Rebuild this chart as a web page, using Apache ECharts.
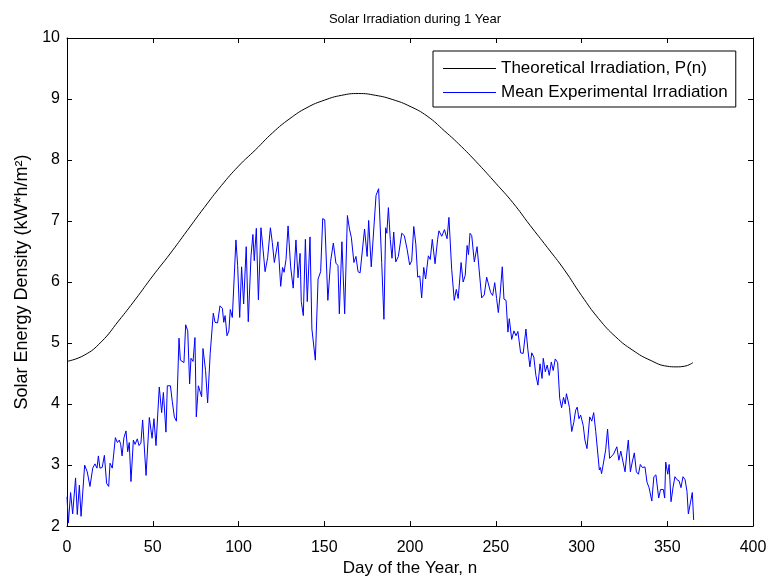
<!DOCTYPE html>
<html>
<head>
<meta charset="utf-8">
<script src="https://cdn.jsdelivr.net/npm/echarts@6/dist/echarts.min.js"></script>
<style>
  html, body { margin: 0; padding: 0; background: #fff; }
  #chart { width: 770px; height: 582px; }
</style>
</head>
<body>
<div id="chart"></div>
<script>
// theoretical curve
var theoryDays = [0, 10, 20, 30, 40, 50, 60, 70, 80, 90, 100, 110, 120, 130, 140, 150, 160, 170, 180,
  190, 200, 210, 220, 230, 240, 250, 260, 270, 280, 290, 300, 310, 320, 330, 340, 350, 355, 360, 365];
var theoryValues = [4.70, 4.80, 5.02, 5.36, 5.72, 6.10, 6.46, 6.84, 7.22, 7.58, 7.90, 8.17, 8.45, 8.68, 8.86, 8.98, 9.06, 9.09, 9.06,
  8.99, 8.88, 8.72, 8.48, 8.22, 7.93, 7.62, 7.30, 6.93, 6.57, 6.20, 5.78, 5.40, 5.10, 4.88, 4.72, 4.62, 4.61, 4.62, 4.68];

var expDays = [0, 0.8, 2.1, 3.3, 5.0, 6.0, 7.2, 8.2, 10.3, 11.8, 13.4, 15.0, 16.3, 17.5, 18.3, 19.2, 20.5, 21.8, 23.1, 24.3,
  25.1, 26.4, 28.2, 29.4, 30.5, 31.3, 32.1, 33.2, 34.4, 35.4, 36.3, 37.3, 38.7, 39.7, 41.0, 42.0, 43.1, 44.1, 46.1, 48.0,
  49.6, 50.7, 51.9, 53.8, 55.2, 56.2, 57.7,
  58.5, 60.3, 61.4, 62.6, 63.8, 65.3, 66.1, 67.2, 68.2, 69.2, 70.4, 71.5, 72.3, 73.5, 74.6, 75.4, 76.6, 77.7, 78.5, 79.3,
  80.8, 82.0, 83.5, 85.3, 86.3, 87.8, 89.2, 90.6, 91.4, 92.2, 93.3, 94.4, 95.2, 96.4, 97.5, 98.5, 99.5, 100.7, 101.8, 103.0,
  104.5, 105.7, 107.3, 108.4, 109.2, 110.4, 111.6, 113.1, 114.3, 115.5, 117.0, 118.6, 119.7,
  120.9, 122.0, 123.0, 124.6, 125.7, 126.6, 127.7, 128.9, 130.4, 131.9, 132.7, 133.5, 134.7, 135.9, 136.6, 137.8, 139.0,
  140.1, 141.7, 142.8, 144.8, 146.4, 147.9, 149.1, 150.3, 152.1, 153.7, 155.3, 156.8, 158.0, 158.8, 160.3, 161.9, 163.5,
  164.7, 165.8, 167.3, 168.5, 169.7, 170.9, 172.0, 173.5, 175.0, 175.9, 177.4, 179.0, 180.2, 181.7,
  183.5, 184.8, 185.8, 186.5, 187.4, 188.5, 189.5, 190.5, 191.7, 193.2, 195.2, 196.7, 198.3, 199.8, 201.0, 202.2, 203.4,
  204.5, 205.7, 206.8, 208.0, 209.1, 210.7, 211.8, 213.0, 214.6, 216.1, 216.9, 218.5, 220.1, 221.6, 222.7, 224.3, 225.8,
  227.0, 228.1, 229.8, 231.0, 232.2, 233.3, 234.1, 235.0, 236.0, 237.5, 239.1, 240.2, 241.8, 243.3,
  244.7, 245.8, 247.0, 248.2, 249.4, 250.5, 251.5, 252.5, 253.8, 254.8, 256.0, 257.1, 257.9, 259.3, 260.6, 261.8, 262.9,
  263.7, 264.5, 266.0, 267.6, 268.7, 269.9, 271.0, 272.2, 273.4, 274.6, 275.8, 277.0, 277.7, 278.9, 280.0, 281.2, 282.4,
  283.5, 284.7, 286.1, 287.3, 288.4, 289.5, 290.5, 291.2, 292.2, 293.0, 294.3, 295.5, 296.6, 297.5, 298.5, 299.5, 301.0,
  302.0, 303.2, 304.8, 306.0, 307.1, 308.3, 309.3, 310.4, 311.0, 311.7, 312.9, 314.1, 315.2, 316.4, 317.5, 318.7, 320.6,
  321.8, 322.9, 325.4, 326.5, 327.3, 328.5, 329.6, 330.8, 332.0, 333.2, 334.3, 335.5, 337.0, 338.2, 339.4, 341.0, 342.2,
  343.4, 345.0, 346.1, 347.7, 348.5, 349.1, 350.3, 351.1, 352.2, 353.4, 354.5, 355.7, 356.9, 358.0, 359.2, 360.4, 361.5,
  362.3, 363.5, 364.6, 365.4];
var expValues = [2.48, 2.05, 2.55, 2.20, 2.79, 2.19, 2.67, 2.16, 3.00, 2.89, 2.65, 2.95, 3.02, 2.95, 3.15, 2.95, 2.96, 3.16, 2.70, 2.65,
  3.03, 2.95, 3.45, 3.37, 3.41, 3.34, 3.15, 3.45, 3.56, 3.22, 3.37, 2.73, 3.41, 3.34, 3.43, 3.32, 3.36, 3.74, 2.83, 3.78,
  3.44, 3.76, 3.32, 4.28, 3.86, 4.19, 3.54,
  4.30, 4.30, 4.04, 3.79, 3.72, 5.08, 4.72, 4.70, 4.68, 5.30, 5.20, 4.33, 4.75, 4.70, 5.09, 3.79, 4.30, 4.27, 4.12, 4.91,
  4.55, 4.02, 4.83, 5.49, 5.34, 5.33, 5.61, 5.57, 5.34, 5.45, 5.12, 5.20, 5.55, 5.42, 5.45, 6.69, 6.27, 5.42, 6.25, 5.64,
  6.58, 5.35, 6.43, 6.78, 6.35, 6.88, 5.71, 6.89, 6.54, 6.17, 6.40, 6.89, 6.65,
  6.32, 6.30, 6.66, 5.93, 6.24, 6.16, 6.37, 6.92, 6.25, 5.90, 5.93, 6.69, 6.07, 6.47, 5.68, 5.45, 6.70,
  5.68, 6.74, 5.23, 4.72, 6.05, 6.17, 7.04, 7.02, 5.70, 6.34, 6.64, 6.31, 6.27, 5.48, 6.66, 5.48, 7.09,
  6.87, 6.73, 6.32, 6.42, 6.17, 6.15, 6.17, 6.87, 6.42, 7.01, 6.25, 6.92, 7.42, 7.53,
  6.32, 5.39, 6.89, 6.80, 7.22, 6.70, 6.39, 6.82, 6.33, 6.42, 6.80, 6.76, 6.54, 6.28, 6.35, 6.91, 6.62,
  6.08, 6.10, 5.74, 6.24, 6.05, 6.43, 6.37, 6.70, 6.30, 6.70, 6.84, 6.75, 6.86, 6.71, 7.06, 6.21, 5.70,
  5.88, 5.73, 6.32, 6.00, 6.11, 6.60, 6.45, 6.80, 6.76, 6.33, 6.58, 6.56, 5.74, 5.79,
  6.08, 6.06, 5.83, 5.78, 5.99, 5.73, 5.50, 5.78, 6.25, 5.72, 5.70, 5.18, 5.40, 5.06, 5.20, 5.12, 5.19,
  5.02, 4.84, 4.83, 5.23, 4.90, 4.61, 4.84, 4.77, 4.47, 4.31, 4.66, 4.42, 4.75, 4.53, 4.64, 4.47, 4.69,
  4.55, 4.74, 4.68, 4.09, 3.94, 4.11, 4.00, 4.17, 4.05, 3.94, 3.55, 3.70, 3.90, 3.95, 3.76, 3.82, 3.65,
  3.41, 3.27, 3.79, 3.72, 3.86, 3.55, 3.56, 2.92, 2.96, 2.86, 3.05, 3.25, 3.59, 3.11, 3.08, 3.18, 3.30,
  3.08, 3.23, 2.89, 3.21, 3.41, 2.89, 3.05, 3.20, 2.89, 2.85, 3.01, 2.96, 2.97, 2.72, 2.63, 2.41, 2.81,
  2.84, 2.46, 2.60, 2.60, 2.46, 3.05, 2.85, 3.01, 2.40, 2.64, 2.81, 2.76, 2.74, 2.63, 2.81, 2.76, 2.57,
  2.20, 2.38, 2.55, 2.10];

var seriesNames = ['Theoretical Irradiation, P(n)', 'Mean Experimental Irradiation'];
var xTicks = [0, 400, 50];
var yTicks = [2, 10, 1];

function zip(a, b) {
  var out = [];
  for (var i = 0; i < a.length; i++) out.push([a[i], b[i]]);
  return out;
}

var font = '"Liberation Sans", Arial, Helvetica, sans-serif';
var black = '#000';
var lineIcon = 'path://M0,0H53V1H0Z';

function boxAxis(extra) {
  var ax = {
    type: 'value',
    axisLine: { show: true, onZero: false, lineStyle: { color: black, width: 1 } },
    axisTick: { show: true, inside: true, length: 5, lineStyle: { color: black } },
    splitLine: { show: false },
    axisLabel: { show: false }
  };
  for (var k in extra) ax[k] = extra[k];
  return ax;
}

var chart = echarts.init(document.getElementById('chart'));
chart.setOption({
  backgroundColor: '#fff',
  animation: false,
  textStyle: { fontFamily: font },
  title: {
    text: 'Solar Irradiation during 1 Year',
    left: 410,
    textAlign: 'center',
    top: 8,
    textStyle: { fontSize: 13, fontWeight: 'normal', color: black, fontFamily: font }
  },
  legend: {
    orient: 'vertical',
    left: 433,
    top: 51,
    padding: [9, 8, 6, 10],
    itemWidth: 53,
    itemHeight: 14,
    itemGap: 7,
    borderColor: black,
    borderWidth: 1,
    borderRadius: 0,
    backgroundColor: '#fff',
    textStyle: { fontSize: 17, color: black, fontFamily: font },
    data: [
      { name: seriesNames[0], icon: lineIcon },
      { name: seriesNames[1], icon: lineIcon }
    ]
  },
  grid: { left: 67, right: 17, top: 38, bottom: 54 },
  xAxis: [
    boxAxis({
      min: xTicks[0], max: xTicks[1], interval: xTicks[2],
      position: 'bottom',
      name: 'Day of the Year, n',
      nameLocation: 'middle',
      nameGap: 31,
      nameTextStyle: { fontSize: 17, color: black, fontFamily: font },
      axisLabel: { show: true, color: black, fontSize: 16, margin: 13, fontFamily: font }
    }),
    boxAxis({ min: xTicks[0], max: xTicks[1], interval: xTicks[2], position: 'top' })
  ],
  yAxis: [
    boxAxis({
      min: yTicks[0], max: yTicks[1], interval: yTicks[2],
      position: 'left',
      name: 'Solar Energy Density (kW*h/m²)',
      nameLocation: 'middle',
      nameGap: 36,
      nameTextStyle: { fontSize: 18, color: black, fontFamily: font },
      axisLabel: { show: true, color: black, fontSize: 16, margin: 7, fontFamily: font }
    }),
    boxAxis({ min: yTicks[0], max: yTicks[1], interval: yTicks[2], position: 'right' })
  ],
  series: [
    {
      name: seriesNames[0],
      type: 'line',
      xAxisIndex: 0,
      yAxisIndex: 0,
      smooth: true,
      symbol: 'none',
      lineStyle: { color: black, width: 1 },
      itemStyle: { color: black },
      data: zip(theoryDays, theoryValues)
    },
    {
      name: seriesNames[1],
      type: 'line',
      xAxisIndex: 0,
      yAxisIndex: 0,
      symbol: 'none',
      lineStyle: { color: '#0000ff', width: 1 },
      itemStyle: { color: '#0000ff' },
      data: zip(expDays, expValues)
    }
  ]
});
</script>
</body>
</html>
